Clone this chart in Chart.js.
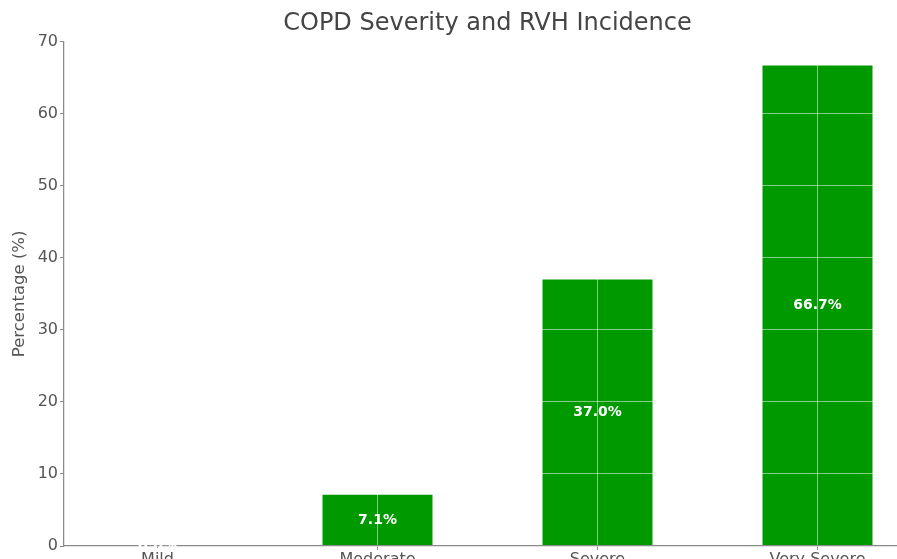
<!DOCTYPE html>
<html>
<head>
<meta charset="utf-8">
<title>COPD Severity and RVH Incidence</title>
<script src="https://cdn.jsdelivr.net/npm/chart.js@4/dist/chart.umd.min.js"></script>
<style>
  html, body { margin: 0; padding: 0; background: #fff; }
  #wrap { width: 897px; height: 559px; overflow: hidden; position: relative; }
  canvas { display: block; }
</style>
</head>
<body>
<div id="wrap"><canvas id="chart" width="974" height="580"></canvas></div>
<script>
// Severity groups and the share of patients with RVH in each (%)
const categories = ['Mild', 'Moderate', 'Severe', 'Very Severe'];
const rvhPercent = [0.0, 7.1, 37.0, 66.7];
const yTicks = [0, 10, 20, 30, 40, 50, 60, 70];
const chartTitle = 'COPD Severity and RVH Incidence';

const FONT = "'DejaVu Sans', 'Liberation Sans', sans-serif";
const BAR_GREEN = '#009900';
const AXIS_GREY = '#8a8a8a';
const TEXT_GREY = '#555555';
const GRID_WHITE = 'rgba(255,255,255,0.5)';

// Title centred over the plotting area rather than the whole canvas
const plotTitle = {
  id: 'plotTitle',
  afterDraw(chart) {
    const { ctx, chartArea } = chart;
    ctx.save();
    ctx.font = '24px ' + FONT;
    ctx.fillStyle = '#444444';
    ctx.textAlign = 'center';
    ctx.textBaseline = 'alphabetic';
    ctx.fillText(chartTitle, (chartArea.left + chartArea.right) / 2, 30);
    ctx.restore();
  }
};

// Percent labels printed in the middle of each bar
const barLabels = {
  id: 'barLabels',
  afterDraw(chart) {
    const ctx = chart.ctx;
    const meta = chart.getDatasetMeta(0);
    ctx.save();
    ctx.font = 'bold 14px ' + FONT;
    ctx.fillStyle = '#ffffff';
    ctx.textAlign = 'center';
    ctx.textBaseline = 'middle';
    meta.data.forEach((bar, i) => {
      const v = rvhPercent[i];
      ctx.fillText(v.toFixed(1) + '%', bar.x, (bar.y + bar.base) / 2);
    });
    ctx.restore();
  }
};

new Chart(document.getElementById('chart'), {
  type: 'bar',
  data: {
    datasets: [{
      data: rvhPercent.map((v, i) => ({ x: i, y: v })),
      backgroundColor: BAR_GREEN,
      borderWidth: 0,
      barPercentage: 0.5,
      categoryPercentage: 1.0
    }]
  },
  options: {
    responsive: false,
    animation: false,
    events: [],
    layout: { padding: { left: 0, right: 63, top: 41.7, bottom: 0 } },
    plugins: {
      legend: { display: false },
      tooltip: { enabled: false },
      title: { display: false }
    },
    scales: {
      x: {
        type: 'linear',
        min: -0.425,
        max: 3.425,
        offset: false,
        afterBuildTicks(scale) {
          scale.ticks = categories.map((_, i) => ({ value: i }));
        },
        afterFit(scale) { scale.height = 580 - 546; },
        ticks: {
          color: TEXT_GREY,
          font: { family: FONT, size: 16 },
          padding: 0,
          maxRotation: 0,
          autoSkip: false,
          callback: (v) => categories[v]
        },
        grid: {
          offset: false,
          z: 1,
          color: GRID_WHITE,
          lineWidth: 1,
          tickColor: AXIS_GREY,
          tickLength: 4
        },
        border: { display: true, z: 2, color: AXIS_GREY, width: 1.25 }
      },
      y: {
        min: 0,
        max: 70,
        afterBuildTicks(scale) {
          scale.ticks = yTicks.map(v => ({ value: v }));
        },
        afterFit(scale) { scale.width = 64; },
        ticks: {
          color: TEXT_GREY,
          font: { family: FONT, size: 16 },
          padding: 2
        },
        grid: {
          z: 1,
          color: GRID_WHITE,
          lineWidth: 1,
          tickColor: AXIS_GREY,
          tickLength: 4
        },
        border: { display: true, z: 2, color: AXIS_GREY, width: 1.25 },
        title: {
          display: true,
          text: 'Percentage (%)',
          color: TEXT_GREY,
          font: { family: FONT, size: 16.5 },
          padding: { top: 10, bottom: 0 }
        }
      }
    }
  },
  plugins: [plotTitle, barLabels]
});
</script>
</body>
</html>
